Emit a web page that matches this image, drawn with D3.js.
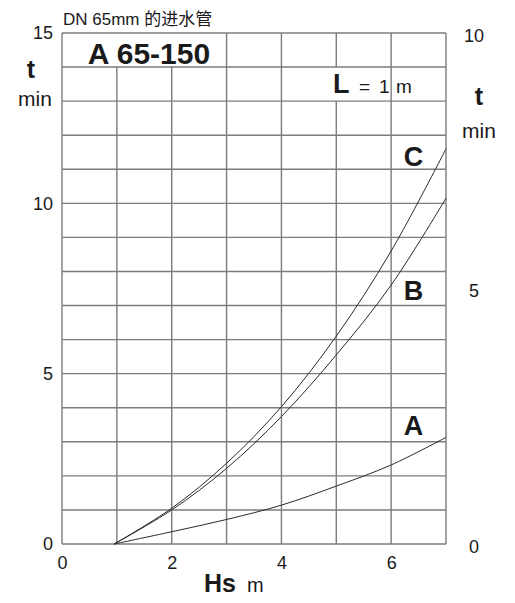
<!DOCTYPE html>
<html>
<head>
<meta charset="utf-8">
<script src="https://cdn.jsdelivr.net/npm/d3@7"></script>
<style>
  body { margin: 0; background: #fff; }
  text { font-family: "Liberation Sans", Arial, "Noto Sans CJK SC", sans-serif; fill: #1a1a1a; }
</style>
</head>
<body>
<div id="chart"></div>
<script>
// values
var hs     = [0.95, 2, 3, 4, 5, 6, 7];
var curveA = [0, 0.36, 0.72, 1.14, 1.70, 2.32, 3.13];
var curveB = [0, 1.0, 2.22, 3.74, 5.55, 7.6, 10.15];
var curveC = [0, 1.05, 2.37, 4.03, 6.1, 8.6, 11.6];
var curveNames = ["A", "B", "C"];

var xTicks = [0, 2, 4, 6];
var leftTicks = [0, 5, 10, 15];
var rightTicks = [0, 5, 10];

var width = 515, height = 603;
var plotLeft = 62, plotRight = 446, plotTop = 33, plotBottom = 544;

var svg = d3.select("#chart").append("svg")
  .attr("width", width)
  .attr("height", height);

var x = d3.scaleLinear().domain([0, 7]).range([plotLeft, plotRight]);
var yL = d3.scaleLinear().domain([0, 15]).range([plotBottom, plotTop]);
var yR = d3.scaleLinear().domain([0, 10]).range([plotBottom, plotTop]);

var gridColor = "#7c7c7c";
var fmt = d3.format("d");

// grid cells where a vertical line is left out (label boxes)
var skip = [{x: 1, row: 14}, {x: 2, row: 14}, {x: 5, row: 13}];

var grid = svg.append("g");
// horizontal lines
grid.selectAll("line.h")
  .data(d3.range(0, 16))
  .enter().append("line")
  .attr("x1", x(0)).attr("x2", x(7))
  .attr("y1", d => yL(d)).attr("y2", d => yL(d))
  .attr("stroke", gridColor)
  .attr("stroke-width", 1.4);

// vertical lines, drawn row by row
var segs = [];
d3.range(0, 8).forEach(function(xi) {
  d3.range(0, 15).forEach(function(r) {
    if (!skip.some(s => s.x == xi && s.row == r)) segs.push({x: xi, row: r});
  });
});
grid.selectAll("line.v")
  .data(segs)
  .enter().append("line")
  .attr("x1", d => x(d.x)).attr("x2", d => x(d.x))
  .attr("y1", d => yL(d.row)).attr("y2", d => yL(d.row + 1))
  .attr("stroke", gridColor)
  .attr("stroke-width", 1.4);

// curves
var line = d3.line()
  .x(d => x(d[0]))
  .y(d => yL(d[1]))
  .curve(d3.curveCatmullRom.alpha(0.5));

[curveA, curveB, curveC].forEach(function(vals) {
  svg.append("path")
    .datum(hs.map((h, i) => [h, vals[i]]))
    .attr("d", line)
    .attr("fill", "none")
    .attr("stroke", "#2a2a2a")
    .attr("stroke-width", 1);
});

// axes (labels only)
var ax = svg.append("g")
  .attr("transform", "translate(0," + plotBottom + ")")
  .call(d3.axisBottom(x).tickValues(xTicks).tickFormat(fmt).tickSize(0).tickPadding(12));
ax.select(".domain").remove();
ax.selectAll("text").attr("font-size", 18).style("font-family", "Liberation Sans, Arial, sans-serif").attr("fill", "#1a1a1a");

var ayl = svg.append("g")
  .attr("transform", "translate(" + plotLeft + ",0)")
  .call(d3.axisLeft(yL).tickValues(leftTicks).tickFormat(fmt).tickSize(0).tickPadding(9));
ayl.select(".domain").remove();
ayl.selectAll("text").attr("font-size", 18).style("font-family", "Liberation Sans, Arial, sans-serif").attr("fill", "#1a1a1a");

var ayr = svg.append("g")
  .attr("transform", "translate(" + plotRight + ",0)")
  .call(d3.axisRight(yR).tickValues(rightTicks).tickFormat(fmt).tickSize(0).tickPadding(28));
ayr.select(".domain").remove();
ayr.selectAll("text").attr("font-size", 18).attr("text-anchor", "middle")
  .attr("dy", "0.45em")
  .style("font-family", "Liberation Sans, Arial, sans-serif").attr("fill", "#1a1a1a");

// axis titles
svg.append("text").attr("x", 31).attr("y", 78).attr("text-anchor", "middle")
  .attr("font-size", 25).attr("font-weight", "bold").text("t");
svg.append("text").attr("x", 35).attr("y", 106).attr("text-anchor", "middle")
  .attr("font-size", 21).text("min");
svg.append("text").attr("x", 479).attr("y", 105).attr("text-anchor", "middle")
  .attr("font-size", 25).attr("font-weight", "bold").text("t");
svg.append("text").attr("x", 479).attr("y", 138).attr("text-anchor", "middle")
  .attr("font-size", 21).text("min");
svg.append("text").attr("x", 204).attr("y", 592)
  .attr("font-size", 25).attr("font-weight", "bold").text("Hs");
svg.append("text").attr("x", 247).attr("y", 592)
  .attr("font-size", 20).text("m");

// header texts
svg.append("text").attr("x", 63).attr("y", 25)
  .attr("font-size", 17).text("DN 65mm 的进水管");
svg.append("text").attr("x", 149).attr("y", 64).attr("text-anchor", "middle")
  .attr("font-size", 30).attr("font-weight", "bold").text("A 65-150");

var lt = svg.append("text").attr("y", 93);
lt.append("tspan").attr("x", 333).attr("font-size", 27).attr("font-weight", "bold").text("L");
lt.append("tspan").attr("x", 359).attr("font-size", 19).text("=");
lt.append("tspan").attr("x", 379).attr("font-size", 19).text("1");
lt.append("tspan").attr("x", 396).attr("font-size", 19).text("m");

// curve labels
var labelY = [435, 300, 166];
svg.selectAll("text.cl")
  .data(curveNames)
  .enter().append("text")
  .attr("x", 413.5)
  .attr("y", (d, i) => labelY[i])
  .attr("text-anchor", "middle")
  .attr("font-size", 27)
  .attr("font-weight", "bold")
  .text(d => d);
</script>
</body>
</html>
